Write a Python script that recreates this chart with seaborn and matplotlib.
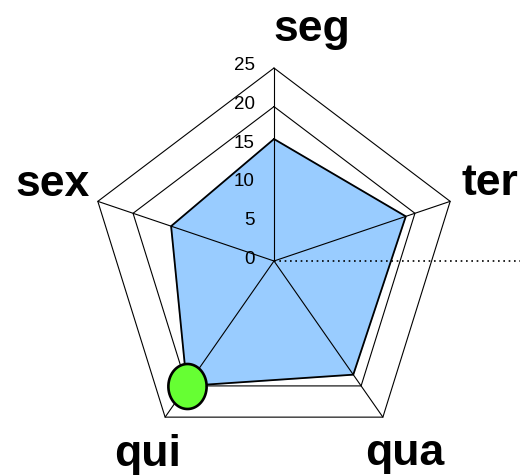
import numpy as np
import pandas as pd
import seaborn as sns
import matplotlib
matplotlib.use("Agg")
import matplotlib.pyplot as plt

# ======================================
# Data
# ======================================

categories = ["seg", "ter", "qua", "qui", "sex"]
values = [15.8, 18.7, 18.2, 20.0, 14.6]
grid_levels = [20, 25]
tick_values = [0, 5, 10, 15, 20, 25]
highlight = "qui"

# ======================================
# Style
# ======================================

sns.set_theme(style="white")
plt.rcParams["font.family"] = ["Liberation Sans", "DejaVu Sans"]

W, H, DPI = 520, 477, 100
cx, cy = 274, 262          # centre of the web, pixels
sx, sy = 7.41, 7.72        # pixels per unit along x and y

fig = plt.figure(figsize=(W / DPI, H / DPI), dpi=DPI)
ax = fig.add_axes([0, 0, 1, 1])
ax.set_xlim(-cx / sx, (W - cx) / sx)
ax.set_ylim(-(H - cy) / sy, cy / sy)
ax.axis("off")

# spoke angles, first category at the top, going clockwise
angles = np.deg2rad(90 - 72 * np.arange(len(categories)))

df = pd.DataFrame({
    "cat": categories,
    "x": np.array(values) * np.cos(angles),
    "y": np.array(values) * np.sin(angles),
})

# ======================================
# Grid
# ======================================

outer = max(grid_levels)
for a in angles:
    ax.plot([0, outer * np.cos(a)], [0, outer * np.sin(a)],
            color="black", lw=0.8, zorder=3)

for lev in grid_levels:
    gx = list(lev * np.cos(angles)) + [lev * np.cos(angles[0])]
    gy = list(lev * np.sin(angles)) + [lev * np.sin(angles[0])]
    ax.plot(gx, gy, color="black", lw=0.8, zorder=3)

# dotted line from the centre to the right edge
ax.plot([0, 50], [0, 0], color="black", lw=1.2,
        linestyle=(0, (1, 2.2)), zorder=3)

# ======================================
# Series
# ======================================

ax.fill(df["x"], df["y"], color="#99ccff", zorder=1)

closed = pd.concat([df, df.iloc[[0]]], ignore_index=True)
sns.lineplot(data=closed, x="x", y="y", sort=False, estimator=None,
             color="black", lw=1.3, ax=ax, zorder=4)

# slightly tall oval marker
t = np.linspace(0, 2 * np.pi, 64)
oval = np.column_stack([0.85 * np.cos(t), np.sin(t)])
sns.scatterplot(data=df[df["cat"] == highlight], x="x", y="y",
                s=1050, marker=oval, color="#66ff33", edgecolor="black",
                linewidth=1.9, ax=ax, zorder=5)
ax.set_xlabel("")
ax.set_ylabel("")

# ======================================
# Labels
# ======================================

for v in tick_values:
    ax.text(-19 / sx, v + 3 / sy, str(v), ha="right", va="center",
            fontsize=13.5, color="black", zorder=6)

label_pos = [(312, 41.5), (489.5, 195), (405, 465), (147.5, 466), (52.5, 196.5)]
for name, (px, py) in zip(categories, label_pos):
    fig.text(px / W, 1 - py / H, name, ha="center", va="baseline",
             fontsize=32, fontweight="bold", color="black")

fig.savefig("out.png", dpi=DPI)
